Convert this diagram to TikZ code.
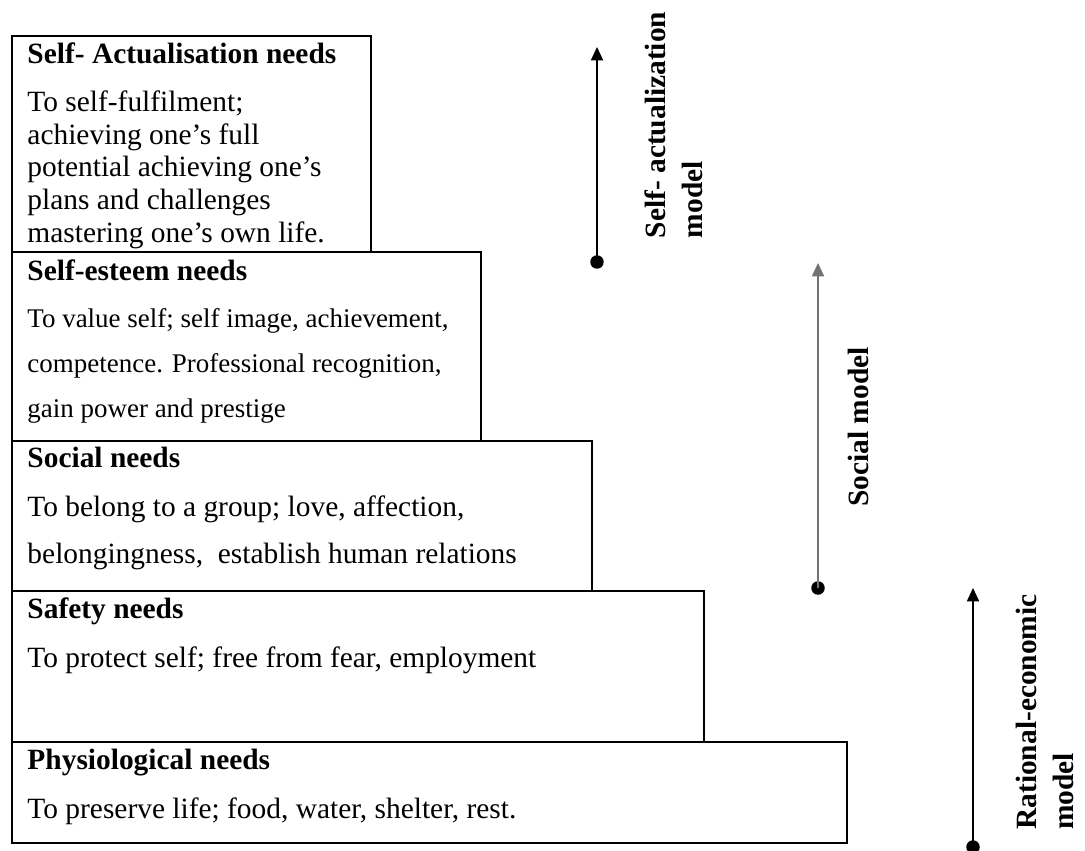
\documentclass[tikz,border=0pt,12pt]{standalone}
\usepackage{fontspec}
\setmainfont{Liberation Serif}
\usetikzlibrary{arrows.meta,fit}

\begin{document}
\begin{tikzpicture}[
    x=0.408pt, y=-0.408pt,
    needbox/.style={draw, line width=0.6pt, inner sep=0pt},
    needtitle/.style={anchor=base west, inner sep=0pt, font=\fontsize{12}{14}\selectfont\bfseries},
    needtext/.style={anchor=base west, inner sep=0pt, align=left},
    modeldot/.style={circle, fill, inner sep=0pt, minimum size=5.5pt},
    modelarrow/.style={line width=0.6pt, -{Triangle[length=5.5pt,width=5pt]}},
    modellabel/.style={rotate=90, align=left, inner sep=0pt,
                       font=\fontsize{12}{15.1}\selectfont\bfseries}]

\useasboundingbox (0,0) rectangle (1085,850);

% the five levels
\node[needbox, fit={(12,36) (371,252)}] (selfact) {};
\node[needbox, fit={(12,252) (481,441)}] (esteem) {};
\node[needbox, fit={(12,441) (592,591)}] (social) {};
\node[needbox, fit={(12,591) (704,742)}] (safety) {};
\node[needbox, fit={(12,742) (847,843)}] (physio) {};

% texts, multi-line ones placed by their last line
\node[needtitle] (selfacttitle) at (27,63) {Self- Actualisation needs};
\node[needtext, font=\fontsize{12}{13.3}\selectfont] (selfacttext) at (27,242)
    {To self-fulfilment;\\achieving one’s full\\potential achieving one’s\\plans and challenges\\mastering one’s own life.};

\node[needtitle] (esteemtitle) at (27,280) {Self-esteem needs};
\node[needtext, font=\fontsize{11}{18.2}\selectfont] (esteemtext) at (27,417)
    {To value self; self image, achievement,\\competence. Professional recognition,\\gain power and prestige};

\node[needtitle] (socialtitle) at (27,467) {Social needs};
\node[needtext, font=\fontsize{12}{18.8}\selectfont] (socialtext) at (27,563)
    {To belong to a group; love, affection,\\belongingness,\ \ establish human relations};

\node[needtitle] (safetytitle) at (27,618) {Safety needs};
\node[needtext, font=\fontsize{12}{14}\selectfont] (safetytext) at (27,667) {To protect self; free from fear, employment};

\node[needtitle] (physiotitle) at (27,769) {Physiological needs};
\node[needtext, font=\fontsize{12}{14}\selectfont] (physiotext) at (27,818) {To preserve life; food, water, shelter, rest.};

% the three models
\node[modeldot] (sadot) at (597,262) {};
\coordinate (satip) at (597,47);
\draw[modelarrow] (sadot.center) -- (satip);
\node[modellabel] (salabel) at (674,125) {Self- actualization\\model};

\node[modeldot] (sodot) at (818,588) {};
\coordinate (sotip) at (818,263);
\draw[modelarrow, draw=black!55] (sodot.center) -- (sotip);
\node[modellabel] (solabel) at (858,427) {Social model};

\node[modeldot] (redot) at (973,847) {};
\coordinate (retip) at (973,588);
\draw[modelarrow] (redot.center) -- (retip);
\node[modellabel] (relabel) at (1045,712) {Rational-economic\\model};

\end{tikzpicture}
\end{document}
